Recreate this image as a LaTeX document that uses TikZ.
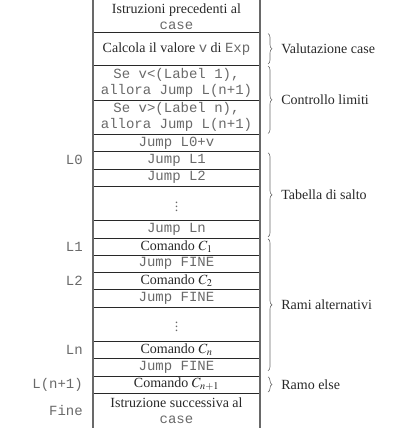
\documentclass[tikz,border=0pt]{standalone}
\usepackage{mathptmx}
\usepackage{fontspec}
\setmainfont{Liberation Serif}
\setmonofont{Liberation Mono}
\usetikzlibrary{positioning, decorations.pathreplacing, calc}
\definecolor{DG}{RGB}{40,40,40}
\definecolor{MG}{RGB}{105,105,105}

\begin{document}
\begin{tikzpicture}[x=1pt, y=-1pt,
  cell/.style={minimum width=167pt, minimum height=#1, inner sep=0pt,
               outer sep=0pt, align=center, text=DG,
               font=\fontsize{14}{16}\selectfont},
  cell/.default=17.25pt,
  code/.style={cell=#1, text=MG, font=\fontsize{14}{16}\selectfont\ttfamily},
  code/.default=17.25pt,
  hline/.style={draw=DG, line width=0.6pt},
  side/.style={draw=MG, line width=1.3pt},
  lbl/.style={font=\fontsize{14}{16}\selectfont\ttfamily, text=MG, inner sep=0pt},
  brace/.style={decorate, decoration={brace, amplitude=4pt}, draw=MG, line width=0.6pt},
  note/.style={midway, right=13pt, inner sep=0pt, text=DG,
               font=\fontsize{14}{16}\selectfont}
]
\useasboundingbox (0,0) rectangle (406,428);

% Memory column
\node[cell=32.5pt, anchor=north] (pre) at (176.5,0) {Istruzioni precedenti al\\\texttt{\color{MG}case}};
\node[cell=32.5pt, below=0pt of pre] (calc) {Calcola il valore \texttt{\color{MG}v} di \texttt{\color{MG}Exp}};
\node[code=35pt, below=0pt of calc] (se1) {Se v<(Label 1),\\allora Jump L(n+1)};
\node[code=34.5pt, below=0pt of se1] (se2) {Se v>(Label n),\\allora Jump L(n+1)};
\node[code, below=0pt of se2] (j0) {Jump L0+v};
\node[code, below=0pt of j0] (j1) {Jump L1};
\node[code, below=0pt of j1] (j2) {Jump L2};
\node[cell=34.4pt, text=MG, below=0pt of j2] (d1) {$\vdots$};
\node[code, below=0pt of d1] (jn) {Jump Ln};
\node[cell, below=0pt of jn] (c1) {Comando $C_1$};
\node[code, below=0pt of c1] (f1) {Jump FINE};
\node[cell, below=0pt of f1] (c2) {Comando $C_2$};
\node[code, below=0pt of c2] (f2) {Jump FINE};
\node[cell=34.4pt, text=MG, below=0pt of f2] (d2) {$\vdots$};
\node[cell, below=0pt of d2] (cn) {Comando $C_n$};
\node[code, below=0pt of cn] (fn) {Jump FINE};
\node[cell, below=0pt of fn] (ce) {Comando $C_{n+1}$};
\node[cell=35pt, below=0pt of ce] (fine) {Istruzione successiva al\\\texttt{\color{MG}case}};

\foreach \r in {pre,calc,se1,se2,j0,j1,j2,d1,jn,c1,f1,c2,f2,d2,cn,fn,ce}
  \draw[hline] (\r.south west) -- (\r.south east);
\draw[side] (pre.north west) -- (fine.south west);
\draw[side] (pre.north east) -- (fine.south east);

% Labels
\node[lbl, left=10pt of j1] (lL0) {L0};
\node[lbl, left=10pt of c1] (lL1) {L1};
\node[lbl, left=10pt of c2] (lL2) {L2};
\node[lbl, left=10pt of cn] (lLn) {Ln};
\node[lbl, left=10pt of ce] (lLe) {L(n+1)};
\node[lbl, left=10pt of fine] (lFi) {Fine};

% Braces
\draw[brace] ([xshift=8pt,yshift=-1pt]calc.north east) -- ([xshift=8pt,yshift=1pt]calc.south east)
  node[note] {Valutazione case};
\draw[brace] ([xshift=8pt,yshift=-1pt]se1.north east) -- ([xshift=8pt,yshift=1pt]se2.south east)
  node[note] {Controllo limiti};
\draw[brace] ([xshift=8pt,yshift=-1pt]j1.north east) -- ([xshift=8pt,yshift=1pt]jn.south east)
  node[note] {Tabella di salto};
\draw[brace] ([xshift=8pt,yshift=-1pt]c1.north east) -- ([xshift=8pt,yshift=5pt]fn.south east)
  node[note] {Rami alternativi};
\draw[brace] ([xshift=8pt,yshift=-1pt]ce.north east) -- ([xshift=8pt,yshift=1pt]ce.south east)
  node[note] {Ramo else};
\end{tikzpicture}
\end{document}
